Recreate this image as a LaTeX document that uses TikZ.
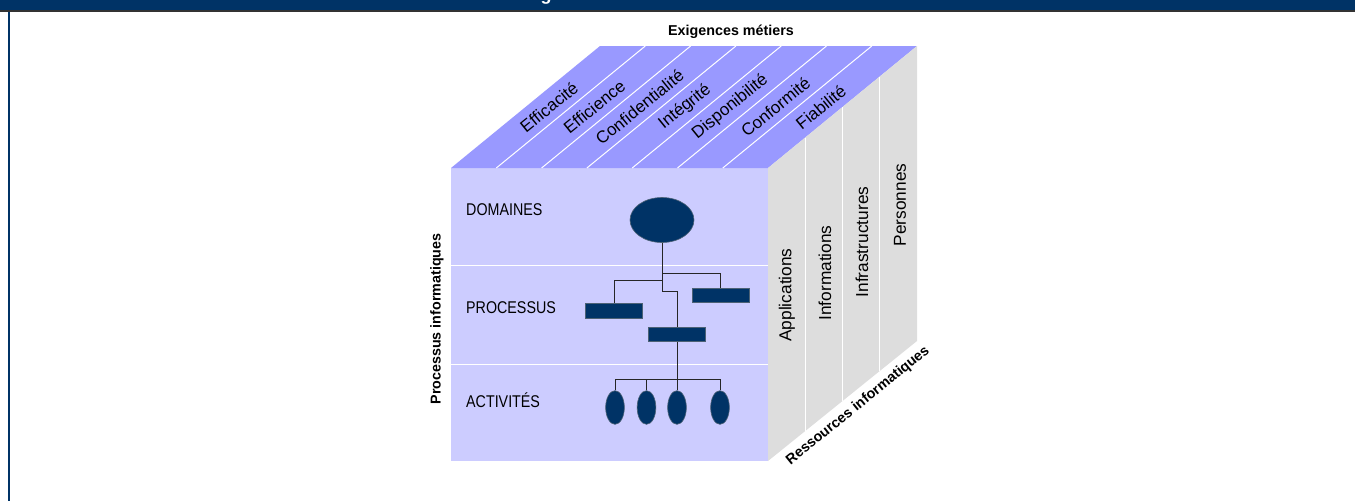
\documentclass[tikz,border=0pt]{standalone}
\usepackage{fontspec}
\setmainfont{Liberation Sans}
\newfontfamily\narrowsans{Liberation Sans}[FakeStretch=0.84]
\usetikzlibrary{shapes.geometric}
\definecolor{navy}{HTML}{003366}
\definecolor{frontface}{HTML}{CCCCFF}
\definecolor{topface}{HTML}{9999FF}
\definecolor{sideface}{HTML}{DDDDDD}

\begin{document}
\begin{tikzpicture}[x=1pt,y=-1pt,
  toplabel/.style={rotate=39, inner sep=0pt, font=\fontsize{17}{19}\selectfont},
  sidelabel/.style={rotate=90, inner sep=0pt, font=\fontsize{17.3}{19}\selectfont},
  axislabel/.style={inner sep=0pt, font=\fontsize{14.3}{16}\selectfont\bfseries},
  levellabel/.style={anchor=base west, inner sep=0pt, font=\narrowsans\fontsize{17}{19}\selectfont},
  unit/.style={draw=gray!60!navy, line width=0.6pt, fill=navy, inner sep=0pt},
  proc/.style={unit, rectangle, minimum width=57pt, minimum height=14.5pt},
  act/.style={unit, ellipse, minimum width=18.7pt, minimum height=33.7pt},
  tree/.style={line width=0.8pt, draw=black!85},
  divider/.style={white, line width=1pt}]
\useasboundingbox (0,0) rectangle (1355,501);

% page frame: title band and left rule
\fill[navy] (0,0) rectangle (1355,10);
\fill[black!80] (0,10) rectangle (1355,11.5);
\fill[navy] (8.3,11.5) rectangle (9.8,501);
\begin{scope}
  \clip (0,0) rectangle (1355,10);
  \node[anchor=base, inner sep=0pt, text=white, font=\fontsize{18}{20}\selectfont\bfseries] (title) at (546,0.2) {g};
\end{scope}

% the three faces of the cube
\fill[frontface] (451,168) rectangle (768,461);
\fill[topface] (451,168) -- (600,46) -- (917,46) -- (768,168) -- cycle;
\fill[sideface] (768,168) -- (917,46) -- (917,341) -- (768,461) -- cycle;

% dividers
\foreach \i in {1,...,6}
  \draw[divider] (451+45.3*\i,168) -- ++(149,-122);
\foreach \i in {1,2,3}
  \draw[divider] (768+37.25*\i,168-30.5*\i) -- (768+37.25*\i,461-30*\i);
\draw[divider] (451,265) -- (768,265);
\draw[divider] (451,364) -- (768,364);

% business requirements on the top face
\foreach \t [count=\i from 0] in {Efficacité,Efficience,Confidentialité,Intégrité,Disponibilité,Conformité,Fiabilité}
  \node[toplabel] (req\i) at (549+45.3*\i,107) {\t};

% IT resources on the side face
\node[sidelabel] (res1) at (787,295) {Applications};
\node[sidelabel] (res2) at (825,273) {Informations};
\node[sidelabel] (res3) at (862,242) {Infrastructures};
\node[sidelabel] (res4) at (900,205) {Personnes};

% axis titles
\node[axislabel] (axtop) at (731,32) {Exigences métiers};
\node[axislabel, rotate=90] (axleft) at (437,319) {Processus informatiques};
\node[axislabel, rotate=39] (axright) at (858,406) {Ressources informatiques};

% levels of the front face
\node[levellabel] (lv1) at (466,215) {DOMAINES};
\node[levellabel] (lv2) at (466,313) {PROCESSUS};
\node[levellabel] (lv3) at (466,407) {ACTIVITÉS};

% hierarchy
\node[unit, ellipse, minimum width=64pt, minimum height=45pt] (dom) at (662,220) {};
\node[proc] (pl) at (614,310.7) {};
\node[proc] (pr) at (720.8,295.5) {};
\node[proc] (pm) at (677,334.5) {};
\node[act] (a1) at (615,407.5) {};
\node[act] (a2) at (646.5,407.5) {};
\node[act] (a3) at (677,407.5) {};
\node[act] (a4) at (720,407.5) {};

\coordinate (y1) at (0,273.3);
\coordinate (y2) at (0,280.7);
\coordinate (y3) at (0,291);
\coordinate (y4) at (0,379);

\draw[tree] (dom.south) -- (dom.south |- y3) -| (pm.north);
\draw[tree] (dom.south |- y1) -| (pr.north);
\draw[tree] (dom.south |- y2) -| (pl.north);
\draw[tree] (pm.south) -- (pm.south |- y4);
\draw[tree] (a1.north) -- (a1.north |- y4) -- (a4.north |- y4) -- (a4.north);
\draw[tree] (a2.north) -- (a2.north |- y4);
\draw[tree] (a3.north) -- (a3.north |- y4);
\end{tikzpicture}
\end{document}
